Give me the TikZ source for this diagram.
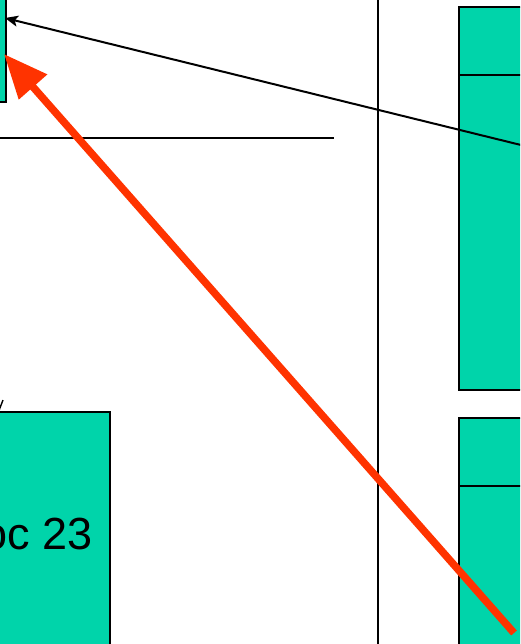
\documentclass[tikz,border=0pt]{standalone}
\usepackage{fontspec}
\setmainfont{Liberation Sans}
\usetikzlibrary{arrows.meta}
\definecolor{teal1}{RGB}{0,212,170}
\definecolor{redarr}{RGB}{255,51,0}
\tikzset{
  box/.style={fill=teal1,draw=black,line width=2.2pt},
  thinline/.style={draw=black,line width=2pt},
}
\begin{document}
\begin{tikzpicture}[x=1pt,y=-1pt]
\useasboundingbox (0,0) rectangle (520,644);
\clip (0,0) rectangle (520,644);
% boxes
\draw[box] (-20,-20) rectangle (6,102);
\draw[box] (459,7) rectangle (540,390);
\draw[thinline] (459,75) -- (540,75);
\draw[box] (459,418) rectangle (540,700);
\draw[thinline] (459,486) -- (540,486);
\draw[box] (-20,412) rectangle (110,700);
\node[anchor=base east,inner sep=0pt,font=\fontsize{45}{50}\selectfont] (doc) at (93,549) {oc 23};
% lines
\draw[thinline] (378,-5) -- (378,650);
\coordinate (hl) at (0,138);
\coordinate (hr) at (334,138);
\draw[thinline] (hl) -- (hr);
\coordinate (tk1) at (-2,413);
\coordinate (tk2) at (3,400);
\draw[draw=black,line width=1.4pt] (tk1) -- (tk2);
% arrows
\coordinate (bs) at (525,146);
\coordinate (bt) at (5,18);
\draw[thinline,-{Stealth[length=13pt,width=11pt,inset=3pt]}] (bs) -- (bt);
\coordinate (rs) at (514,633);
\coordinate (rt) at (4,54);
\draw[draw=redarr,line width=7.5pt,-{Triangle[length=44pt,width=36pt]}] (rs) -- (rt);
\end{tikzpicture}
\end{document}
